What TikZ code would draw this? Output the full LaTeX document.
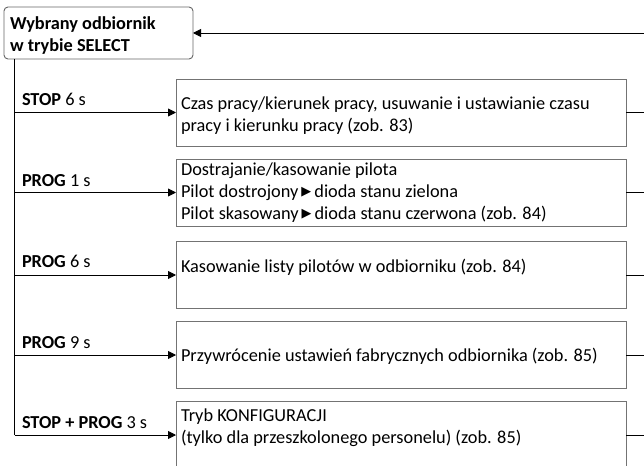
\documentclass[tikz,border=0pt]{standalone}
\usepackage{fontspec}
\setmainfont{Carlito}
\newfontfamily\dejavu{DejaVu Sans}
\newcommand\mytri{\,\raisebox{1.5pt}{\scalebox{0.7}{\dejavu ▶}}\,}
\usetikzlibrary{arrows.meta,positioning,calc}
\begin{document}
\begin{tikzpicture}[x=1pt,y=-1pt,
  font=\fontsize{18.3}{21.8}\selectfont,
  every node/.style={inner sep=0pt,outer sep=0pt},
  topbox/.style={draw=black!60,line width=0.9pt,rounded corners=4pt,minimum width=189pt,minimum height=52pt,anchor=north west},
  actbox/.style={draw=black!55,line width=0.9pt,minimum width=450pt,minimum height=67pt,anchor=north west},
  boxtext/.style={align=left,anchor=west},
  lbl/.style={anchor=base west},
  conn/.style={draw=black,line width=0.9pt},
  arr/.style={conn,-{Triangle[length=8pt,width=8pt]}}
]
\clip (0,0) rectangle (644,465);
\fill[white] (0,0) rectangle (644,465);

% top box
\node[topbox] (top) at (4,7) {};
\node[align=left,anchor=west,font=\fontsize{18.3}{22}\selectfont\bfseries] (toptext) at ($(top.west)+(6,2.5)$) {Wybrany odbiornik\\w trybie SELECT};

% action boxes
\node[actbox] (b1) at (176,79) {};
\node[actbox] (b2) at (176,159) {};
\node[actbox] (b3) at (176,241.5) {};
\node[actbox] (b4) at (176,321.5) {};
\node[actbox] (b5) at (176,401.5) {};

\node[boxtext] (t1) at ($(b1.west)+(5,3)$) {Czas pracy/kierunek pracy, usuwanie i ustawianie czasu\\pracy i kierunku pracy (zob. 83)};
\node[boxtext] (t2) at ($(b2.west)+(5,0)$) {Dostrajanie/kasowanie pilota\\Pilot dostrojony\mytri dioda stanu zielona\\Pilot skasowany\mytri dioda stanu czerwona (zob. 84)};
\node[boxtext] (t3) at ($(b3.west)+(5,-8)$) {Kasowanie listy pilotów w odbiorniku (zob. 84)};
\node[boxtext] (t4) at ($(b4.west)+(5,1)$) {Przywrócenie ustawień fabrycznych odbiornika (zob. 85)};
\node[boxtext] (t5) at ($(b5.west)+(5,-7)$) {Tryb KONFIGURACJI\\(tylko dla przeszkolonego personelu) (zob. 85)};

% labels
\node[lbl] (l1) at (22,106) {\textbf{STOP} 6 s};
\node[lbl] (l2) at (22,186) {\textbf{PROG} 1 s};
\node[lbl] (l3) at (22,267.5) {\textbf{PROG} 6 s};
\node[lbl] (l4) at (22,348) {\textbf{PROG} 9 s};
\node[lbl] (l5) at (22,428) {\textbf{STOP + PROG} 3 s};

% trunk
\path (14.5,0) coordinate (xx);
\coordinate (j1) at (xx |- b1.west);
\coordinate (j2) at (xx |- b2.west);
\coordinate (j3) at (xx |- b3.west);
\coordinate (j4) at (xx |- b4.west);
\coordinate (j5) at (xx |- b5.west);
\draw[conn] (top.south -| xx) -- (j5);
\draw[arr] (j1) -- (b1.west);
\draw[arr] (j2) -- (b2.west);
\draw[arr] (j3) -- (b3.west);
\draw[arr] (j4) -- (b4.west);
\draw[arr] (j5) -- (b5.west);

% right returns
\path (644,0) coordinate (rx);
\coordinate (r0) at (rx |- top.east);
\coordinate (r1) at (rx |- b1.east);
\coordinate (r2) at (rx |- b2.east);
\coordinate (r3) at (rx |- b3.east);
\coordinate (r4) at (rx |- b4.east);
\coordinate (r5) at (rx |- b5.east);
\draw[conn] (b1.east) -- (r1);
\draw[conn] (b2.east) -- (r2);
\draw[conn] (b3.east) -- (r3);
\draw[conn] (b4.east) -- (r4);
\draw[conn] (b5.east) -- (r5);
\draw[arr] (r0) -- (top.east);
\end{tikzpicture}
\end{document}
